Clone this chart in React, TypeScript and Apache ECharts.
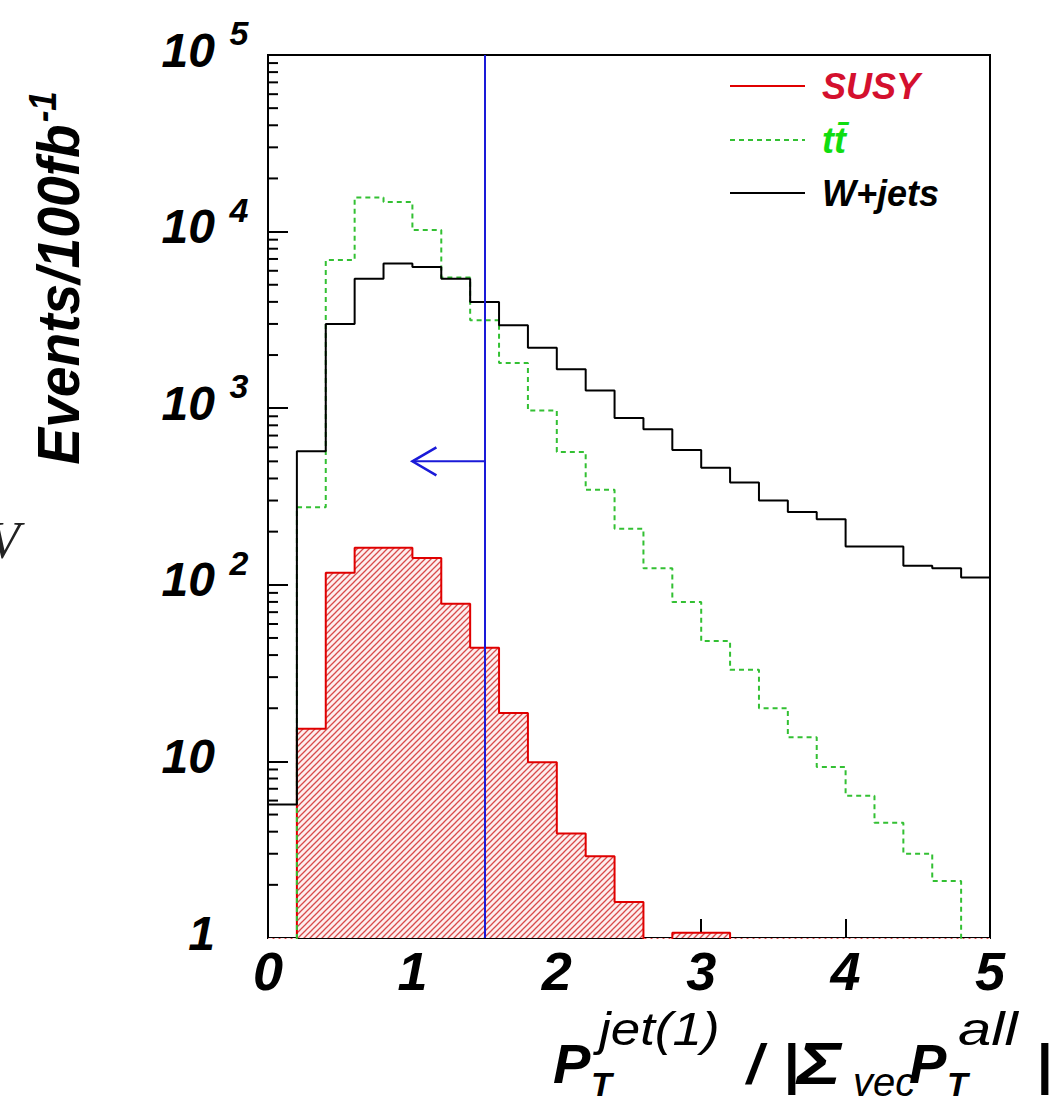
import React, { useEffect, useRef } from 'react';
import * as echarts from 'echarts';

// ---- data (bin width 0.2; 0.5 = below the axis minimum) ----
const binEdges = [0, 0.2, 0.4, 0.6, 0.8, 1.0, 1.2, 1.4, 1.6, 1.8, 2.0, 2.2, 2.4, 2.6, 2.8, 3.0, 3.2, 3.4, 3.6, 3.8, 4.0, 4.2, 4.4, 4.6, 4.8, 5.0];
const susyCounts = [0.5, 15.3, 117, 162, 162, 142, 78, 44, 18.8, 9.9, 3.9, 2.9, 1.6, 0.5, 1.07, 1.07, 0.5, 0.5, 0.5, 0.5, 0.5, 0.5, 0.5, 0.5, 0.5];
const ttbarCounts = [0.5, 275, 6900, 15600, 14700, 10200, 5500, 3150, 1800, 970, 565, 345, 208, 124, 80, 48, 33, 20, 13.7, 9.3, 6.4, 4.5, 3.0, 2.1, 0.5];
const wjetsCounts = [5.7, 570, 3000, 5400, 6600, 6300, 5400, 4000, 2950, 2200, 1660, 1260, 880, 760, 580, 460, 380, 300, 258, 235, 165, 165, 128, 124, 110];
const yMinorTicks = [2, 3, 4, 5, 6, 7, 8, 9, 20, 30, 40, 50, 60, 70, 80, 90, 200, 300, 400, 500, 600, 700, 800, 900, 2000, 3000, 4000, 5000, 6000, 7000, 8000, 9000, 20000, 30000, 40000, 50000, 60000, 70000, 80000, 90000];
const xTickLabels = ['0', '1', '2', '3', '4', '5'];
const cutValue = 1.5;
const arrowLevel = 500;
const arrowTip = 1.0;
const legendLabels = ['SUSY', 'tt\u0304', 'W+jets'];

const F = "'Liberation Sans', Arial, Helvetica, sans-serif";
const RED = '#e00000';
const GREEN = '#33c033';
const BLUE = '#1a1ad8';

function stepData(vals: number[]) {
  return binEdges.map((x, i) => [x, vals[Math.min(i, vals.length - 1)]]);
}

function hatchPattern() {
  const c = document.createElement('canvas');
  c.width = 6;
  c.height = 6;
  const ctx = c.getContext('2d')!;
  ctx.fillStyle = '#fdeeee';
  ctx.fillRect(0, 0, 6, 6);
  ctx.strokeStyle = '#d84a4a';
  ctx.lineWidth = 1.3;
  ctx.beginPath();
  ctx.moveTo(-1, 7); ctx.lineTo(7, -1);
  ctx.moveTo(-4, 4); ctx.lineTo(4, -4);
  ctx.moveTo(2, 10); ctx.lineTo(10, 2);
  ctx.stroke();
  return { image: c, repeat: 'repeat' };
}

function t(text: string, x: number, y: number, size: number, bold: boolean, extra: any = {}) {
  return {
    type: 'text', x, y, ...extra,
    style: { text, fontSize: size, fontWeight: bold ? 'bold' : 'normal', fontStyle: 'italic', fontFamily: F, fill: '#000', verticalAlign: 'middle' },
  };
}

export default function App() {
  const ref = useRef<HTMLDivElement>(null);
  useEffect(() => {
    if (!ref.current) return;
    const chart = echarts.init(ref.current, null, { renderer: 'svg' });
    const lab = { fontWeight: 'bold', fontStyle: 'italic', fontFamily: F, color: '#000' };
    const option: any = {
      animation: false,
      backgroundColor: '#fff',
      grid: { left: 268, top: 55, right: 63, bottom: 165, show: true, borderColor: '#000', borderWidth: 2, backgroundColor: 'transparent' },
      xAxis: {
        type: 'value', min: 0, max: 5, interval: 1,
        axisLine: { show: true, lineStyle: { color: '#000', width: 2 } },
        axisTick: { show: true, inside: true, length: 19, lineStyle: { color: '#000', width: 2 } },
        splitLine: { show: false },
        axisLabel: { ...lab, margin: 6, fontSize: 54, formatter: (v: number) => xTickLabels[Math.round(v)] },
      },
      yAxis: {
        type: 'log', logBase: 10, min: 1, max: 100000, splitNumber: 5,
        axisLine: { show: true, lineStyle: { color: '#000', width: 2 } },
        axisTick: { show: true, inside: true, length: 20, lineStyle: { color: '#000', width: 2 } },
        splitLine: { show: false },
        minorTick: { show: false },
        axisLabel: {
          margin: 19,
          padding: [0, 0, 10, 0],
          formatter: (v: number) => {
            const e = Math.round(Math.log10(v));
            if (e === 0) return '{b|1}{s| }';
            if (e === 1) return '{b|10}{s| }';
            return '{b|10}{s|' + e + '}';
          },
          rich: {
            b: { ...lab, fontSize: 48, lineHeight: 48, verticalAlign: 'bottom' },
            s: { ...lab, fontSize: 34, lineHeight: 34, width: 20, align: 'left', padding: [0, 0, 24, 14], verticalAlign: 'bottom' },
          },
        },
      },
      series: [
        {
          name: 'SUSY', type: 'line', step: 'end', symbol: 'none', data: stepData(susyCounts),
          lineStyle: { color: RED, width: 2 }, itemStyle: { color: RED },
          areaStyle: { color: hatchPattern(), origin: 'start', opacity: 1 }, z: 2,
        },
        {
          name: 'ttbar', type: 'line', step: 'end', symbol: 'none', data: stepData(ttbarCounts),
          lineStyle: { color: GREEN, width: 2, type: [5, 4] }, itemStyle: { color: GREEN }, z: 3,
        },
        {
          name: 'W+jets', type: 'line', step: 'end', symbol: 'none', data: stepData(wjetsCounts),
          lineStyle: { color: '#000', width: 2 }, itemStyle: { color: '#000' }, z: 4,
          markLine: {
            silent: true, symbol: ['none', 'none'], label: { show: false },
            lineStyle: { color: BLUE, width: 2, type: 'solid' },
            data: [{ xAxis: cutValue }],
          },
        },
        {
          type: 'custom', silent: true, z: 6, clip: false,
          data: yMinorTicks.map((v) => [0, v]),
          renderItem: (params: any, api: any) => {
            const p = api.coord([0, api.value(1)]);
            return { type: 'line', shape: { x1: p[0], y1: p[1], x2: p[0] + 10, y2: p[1] }, style: { stroke: '#000', lineWidth: 2 } };
          },
        },
        {
          type: 'custom', silent: true, z: 7,
          data: [[cutValue, arrowLevel, arrowTip]],
          renderItem: (params: any, api: any) => {
            const s = api.coord([api.value(0), api.value(1)]);
            const e = api.coord([api.value(2), api.value(1)]);
            return {
              type: 'group',
              children: [
                { type: 'line', shape: { x1: s[0], y1: s[1], x2: e[0], y2: e[1] }, style: { stroke: BLUE, lineWidth: 2 } },
                { type: 'polyline', shape: { points: [[e[0] + 24, e[1] - 14], [e[0], e[1]], [e[0] + 24, e[1] + 14]] }, style: { stroke: BLUE, lineWidth: 2.5, fill: 'none' } },
              ],
            };
          },
        },
      ],
      graphic: [
        // legend
        { type: 'line', shape: { x1: 730, y1: 86, x2: 805, y2: 86 }, style: { stroke: RED, lineWidth: 2 } },
        { type: 'text', x: 822, y: 86, style: { text: legendLabels[0], fill: '#d4102e', fontSize: 36, fontWeight: 'bold', fontStyle: 'italic', fontFamily: F, verticalAlign: 'middle' } },
        { type: 'line', shape: { x1: 730, y1: 140, x2: 805, y2: 140 }, style: { stroke: GREEN, lineWidth: 2, lineDash: [5, 4] } },
        { type: 'text', x: 822, y: 140, style: { text: legendLabels[1], fill: '#10dd10', fontSize: 36, fontWeight: 'bold', fontStyle: 'italic', fontFamily: F, verticalAlign: 'middle' } },
        { type: 'line', shape: { x1: 730, y1: 193, x2: 805, y2: 193 }, style: { stroke: '#000', lineWidth: 2 } },
        { type: 'text', x: 822, y: 193, style: { text: legendLabels[2], fill: '#000', fontSize: 36, fontWeight: 'bold', fontStyle: 'italic', fontFamily: F, verticalAlign: 'middle' } },
        // y title
        {
          type: 'text', x: 58, y: 278, rotation: Math.PI / 2, scaleX: 0.92,
          style: {
            text: '{a|Events/100fb}{b|-1}', align: 'center', verticalAlign: 'middle',
            rich: {
              a: { fontSize: 60, lineHeight: 60, fontWeight: 'bold', fontStyle: 'italic', fontFamily: F, fill: '#000', verticalAlign: 'bottom' },
              b: { fontSize: 38, lineHeight: 38, fontWeight: 'bold', fontStyle: 'italic', fontFamily: F, fill: '#000', padding: [0, 0, 26, 2], verticalAlign: 'bottom' },
            },
          },
        },
        // x title: P_T^{jet(1)} / |Σ_vec P_T^all|
        t('P', 553, 1063, 56, true),
        t('T', 591, 1084, 34, true),
        t('jet(1)', 599, 1029, 46, false, { scaleX: 1.15 }),
        t('/', 747, 1063, 56, true),
        t('|', 783, 1063, 56, true),
        t('\u03a3', 797, 1063, 60, true, { scaleX: 1.25 }),
        t('vec', 853, 1082, 40, false),
        t('P', 909, 1063, 56, true),
        t('T', 947, 1084, 34, true),
        t('all', 958, 1029, 46, false, { scaleX: 1.3 }),
        t('|', 1036, 1063, 56, true),
        // cropped glyph at the left edge of the source image
        { type: 'text', x: -12, y: 540, style: { text: 'V', fontSize: 52, fontStyle: 'italic', fontFamily: "'Liberation Serif', serif", fill: '#222', verticalAlign: 'middle' } },
      ],
    };
    chart.setOption(option);
    return () => chart.dispose();
  }, []);
  return <div ref={ref} style={{ position: 'fixed', left: 0, top: 0, width: 1053, height: 1103 }} />;
}
